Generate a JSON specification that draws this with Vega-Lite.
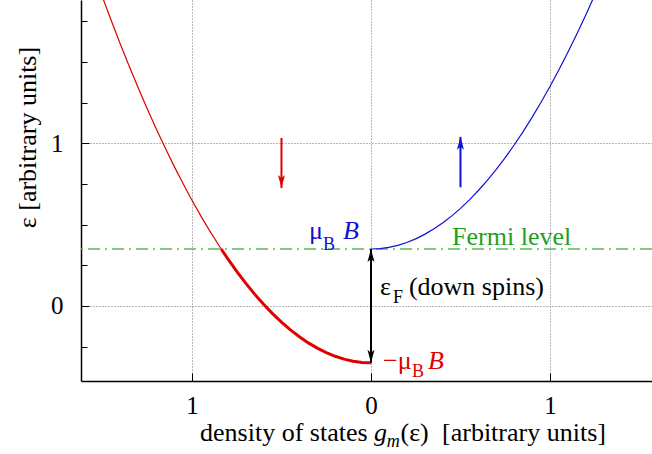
{
  "$schema": "https://vega.github.io/schema/vega-lite/v6.json",
  "autosize": {"type": "none"},
  "width": 571,
  "height": 381,
  "padding": {"left": 81, "top": 0, "right": 0, "bottom": 73},
  "background": "white",
  "config": {
    "view": {"stroke": null},
    "font": "Liberation Serif",
    "axis": {
      "domainColor": "black",
      "domainWidth": 1.5,
      "tickColor": "black",
      "tickWidth": 1,
      "labelFont": "Liberation Serif",
      "labelFontSize": 25,
      "labelColor": "black",
      "titleFont": "Liberation Serif",
      "titleFontSize": 26,
      "titleFontWeight": "normal",
      "titleColor": "black",
      "gridColor": "#707070",
      "gridDash": [1, 2],
      "gridWidth": 1
    }
  },
  "datasets": {
    "dos": [
      {"branch": "down_filled", "g": 0, "e": -0.35},
      {"branch": "down_filled", "g": -0.05, "e": -0.3475},
      {"branch": "down_filled", "g": -0.1, "e": -0.34},
      {"branch": "down_filled", "g": -0.15, "e": -0.3275},
      {"branch": "down_filled", "g": -0.2, "e": -0.31},
      {"branch": "down_filled", "g": -0.25, "e": -0.2875},
      {"branch": "down_filled", "g": -0.3, "e": -0.26},
      {"branch": "down_filled", "g": -0.35, "e": -0.2275},
      {"branch": "down_filled", "g": -0.4, "e": -0.19},
      {"branch": "down_filled", "g": -0.45, "e": -0.1475},
      {"branch": "down_filled", "g": -0.5, "e": -0.1},
      {"branch": "down_filled", "g": -0.55, "e": -0.0475},
      {"branch": "down_filled", "g": -0.6, "e": 0.01},
      {"branch": "down_filled", "g": -0.65, "e": 0.0725},
      {"branch": "down_filled", "g": -0.7, "e": 0.14},
      {"branch": "down_filled", "g": -0.75, "e": 0.2125},
      {"branch": "down_filled", "g": -0.8, "e": 0.29},
      {"branch": "down_filled", "g": -0.8367, "e": 0.35},
      {"branch": "down_empty", "g": -0.8367, "e": 0.35},
      {"branch": "down_empty", "g": -0.9, "e": 0.46},
      {"branch": "down_empty", "g": -0.95, "e": 0.5525},
      {"branch": "down_empty", "g": -1.0, "e": 0.65},
      {"branch": "down_empty", "g": -1.05, "e": 0.7525},
      {"branch": "down_empty", "g": -1.1, "e": 0.86},
      {"branch": "down_empty", "g": -1.15, "e": 0.9725},
      {"branch": "down_empty", "g": -1.2, "e": 1.09},
      {"branch": "down_empty", "g": -1.25, "e": 1.2125},
      {"branch": "down_empty", "g": -1.3, "e": 1.34},
      {"branch": "down_empty", "g": -1.35, "e": 1.4725},
      {"branch": "down_empty", "g": -1.4, "e": 1.61},
      {"branch": "down_empty", "g": -1.45, "e": 1.7525},
      {"branch": "down_empty", "g": -1.5, "e": 1.9},
      {"branch": "down_empty", "g": -1.55, "e": 2.0525},
      {"branch": "up", "g": 0, "e": 0.35},
      {"branch": "up", "g": 0.05, "e": 0.3525},
      {"branch": "up", "g": 0.1, "e": 0.36},
      {"branch": "up", "g": 0.15, "e": 0.3725},
      {"branch": "up", "g": 0.2, "e": 0.39},
      {"branch": "up", "g": 0.25, "e": 0.4125},
      {"branch": "up", "g": 0.3, "e": 0.44},
      {"branch": "up", "g": 0.35, "e": 0.4725},
      {"branch": "up", "g": 0.4, "e": 0.51},
      {"branch": "up", "g": 0.45, "e": 0.5525},
      {"branch": "up", "g": 0.5, "e": 0.6},
      {"branch": "up", "g": 0.55, "e": 0.6525},
      {"branch": "up", "g": 0.6, "e": 0.71},
      {"branch": "up", "g": 0.65, "e": 0.7725},
      {"branch": "up", "g": 0.7, "e": 0.84},
      {"branch": "up", "g": 0.75, "e": 0.9125},
      {"branch": "up", "g": 0.8, "e": 0.99},
      {"branch": "up", "g": 0.85, "e": 1.0725},
      {"branch": "up", "g": 0.9, "e": 1.16},
      {"branch": "up", "g": 0.95, "e": 1.2525},
      {"branch": "up", "g": 1.0, "e": 1.35},
      {"branch": "up", "g": 1.05, "e": 1.4525},
      {"branch": "up", "g": 1.1, "e": 1.56},
      {"branch": "up", "g": 1.15, "e": 1.6725},
      {"branch": "up", "g": 1.2, "e": 1.79},
      {"branch": "up", "g": 1.25, "e": 1.9125},
      {"branch": "up", "g": 1.3, "e": 2.04}
    ],
    "arrows": [
      {"name": "down", "g": -0.5, "from": 1.033, "to": 0.725},
      {"name": "up", "g": 0.5, "from": 0.73, "to": 1.04},
      {"name": "gap", "g": 0, "from": -0.35, "to": 0.35}
    ],
    "heads": [
      {"name": "down", "g": -0.5, "e": 0.725, "dir": "down"},
      {"name": "up", "g": 0.5, "e": 1.04, "dir": "up"},
      {"name": "gap", "g": 0, "e": -0.35, "dir": "down"},
      {"name": "gap", "g": 0, "e": 0.35, "dir": "up"}
    ]
  },
  "encoding": {
    "x": {"type": "quantitative", "scale": {"domain": [-1.62, 1.57], "nice": false, "zero": false}},
    "y": {"type": "quantitative", "scale": {"domain": [-0.462, 1.882], "nice": false, "zero": false}},
    "color": {"type": "nominal", "scale": {"domain": ["down", "up", "gap", "fermi"], "range": ["#e00000", "#1010d0", "black", "#1f9f1f"]}, "legend": null}
  },
  "layer": [
    {
      "data": {"values": [{"level": 0.35}]},
      "mark": {"type": "rule", "color": "#5cb85c", "strokeWidth": 1.5, "strokeDash": [12, 5, 2, 5]},
      "encoding": {
        "color": null,
        "y": {
          "field": "level",
          "type": "quantitative",
          "axis": {
            "orient": "left",
            "values": [-0.25, 0, 0.25, 0.5, 0.75, 1, 1.25, 1.5, 1.75],
            "labelExpr": "datum.value == 0 || datum.value == 1 ? format(datum.value, 'd') : ''",
            "grid": true,
            "gridOpacity": {"condition": {"test": "datum.value == 0 || datum.value == 1", "value": 1}, "value": 0},
            "tickSize": {"condition": {"test": "datum.value == 0 || datum.value == 1", "value": -8}, "value": -6},
            "labelPadding": 26,
            "title": "ε  [arbitrary units]",
            "titleAngle": -90,
            "titleAlign": "center",
            "titleBaseline": "middle",
            "titleX": -54,
            "titleY": 137
          }
        }
      }
    },
    {
      "data": {"name": "dos"},
      "transform": [{"filter": "datum.branch == 'down_empty'"}],
      "mark": {"type": "line", "color": "#e00000", "strokeWidth": 1.2, "clip": true},
      "encoding": {
        "color": null,
        "x": {
          "field": "g",
          "axis": {
            "orient": "bottom",
            "values": [-1, 0, 1],
            "labelExpr": "'' + abs(datum.value)",
            "grid": true,
            "tickSize": -8,
            "labelPadding": 20,
            "title": null
          }
        },
        "y": {"field": "e"}
      }
    },
    {
      "data": {"name": "dos"},
      "transform": [{"filter": "datum.branch == 'down_filled'"}],
      "mark": {"type": "line", "color": "#e00000", "strokeWidth": 3, "clip": true},
      "encoding": {"color": null, "x": {"field": "g"}, "y": {"field": "e"}}
    },
    {
      "data": {"name": "dos"},
      "transform": [{"filter": "datum.branch == 'up'"}],
      "mark": {"type": "line", "color": "#1010d0", "strokeWidth": 1.2, "clip": true},
      "encoding": {"color": null, "x": {"field": "g"}, "y": {"field": "e"}}
    },
    {
      "data": {"name": "arrows"},
      "mark": {"type": "rule", "strokeWidth": 2},
      "encoding": {
        "x": {"field": "g"},
        "y": {"field": "from"},
        "y2": {"field": "to"},
        "color": {"field": "name"}
      }
    },
    {
      "data": {"name": "heads"},
      "transform": [{"filter": "datum.dir == 'down'"}],
      "mark": {"type": "point", "filled": true, "opacity": 1, "size": 100, "shape": "M0,0L-0.7,-2.6L0,-2.0L0.7,-2.6Z"},
      "encoding": {"x": {"field": "g"}, "y": {"field": "e"}, "color": {"field": "name"}}
    },
    {
      "data": {"name": "heads"},
      "transform": [{"filter": "datum.dir == 'up'"}],
      "mark": {"type": "point", "filled": true, "opacity": 1, "size": 100, "shape": "M0,0L-0.7,2.6L0,2.0L0.7,2.6Z"},
      "encoding": {"x": {"field": "g"}, "y": {"field": "e"}, "color": {"field": "name"}}
    },
    {
      "data": {"values": [
        {"t": "Fermi level", "g": 0.453, "e": 0.374, "c": "fermi"},
        {"t": "μ", "g": -0.346, "e": 0.41, "c": "up"},
        {"t": "−μ", "g": 0.067, "e": -0.39, "c": "down"},
        {"t": "ε", "g": 0.05, "e": 0.066, "c": "gap"},
        {"t": "(down spins)", "g": 0.212, "e": 0.066, "c": "gap"},
        {"t": "density of states", "g": -0.955, "e": -0.833, "c": "gap"},
        {"t": "(ε)", "g": 0.165, "e": -0.833, "c": "gap"},
        {"t": "[arbitrary units]", "g": 0.397, "e": -0.833, "c": "gap"}
      ]},
      "mark": {"type": "text", "align": "left", "baseline": "alphabetic", "fontSize": 26, "font": "Liberation Serif", "clip": false},
      "encoding": {"x": {"field": "g"}, "y": {"field": "e"}, "text": {"field": "t"}, "color": {"field": "c"}}
    },
    {
      "data": {"values": [
        {"t": "B", "g": -0.156, "e": 0.41, "c": "up"},
        {"t": "B", "g": 0.318, "e": -0.39, "c": "down"},
        {"t": "g", "g": 0.017, "e": -0.833, "c": "gap"}
      ]},
      "mark": {"type": "text", "align": "left", "baseline": "alphabetic", "fontSize": 26, "fontStyle": "italic", "font": "Liberation Serif", "clip": false},
      "encoding": {"x": {"field": "g"}, "y": {"field": "e"}, "text": {"field": "t"}, "color": {"field": "c"}}
    },
    {
      "data": {"values": [
        {"t": "B", "g": -0.268, "e": 0.343, "c": "up"},
        {"t": "B", "g": 0.229, "e": -0.439, "c": "down"},
        {"t": "F", "g": 0.123, "e": 0.017, "c": "gap"}
      ]},
      "mark": {"type": "text", "align": "left", "baseline": "alphabetic", "fontSize": 18, "font": "Liberation Serif", "clip": false},
      "encoding": {"x": {"field": "g"}, "y": {"field": "e"}, "text": {"field": "t"}, "color": {"field": "c"}}
    },
    {
      "data": {"values": [
        {"t": "m", "g": 0.088, "e": -0.87, "c": "gap"}
      ]},
      "mark": {"type": "text", "align": "left", "baseline": "alphabetic", "fontSize": 18, "fontStyle": "italic", "font": "Liberation Serif", "clip": false},
      "encoding": {"x": {"field": "g"}, "y": {"field": "e"}, "text": {"field": "t"}, "color": {"field": "c"}}
    }
  ]
}
